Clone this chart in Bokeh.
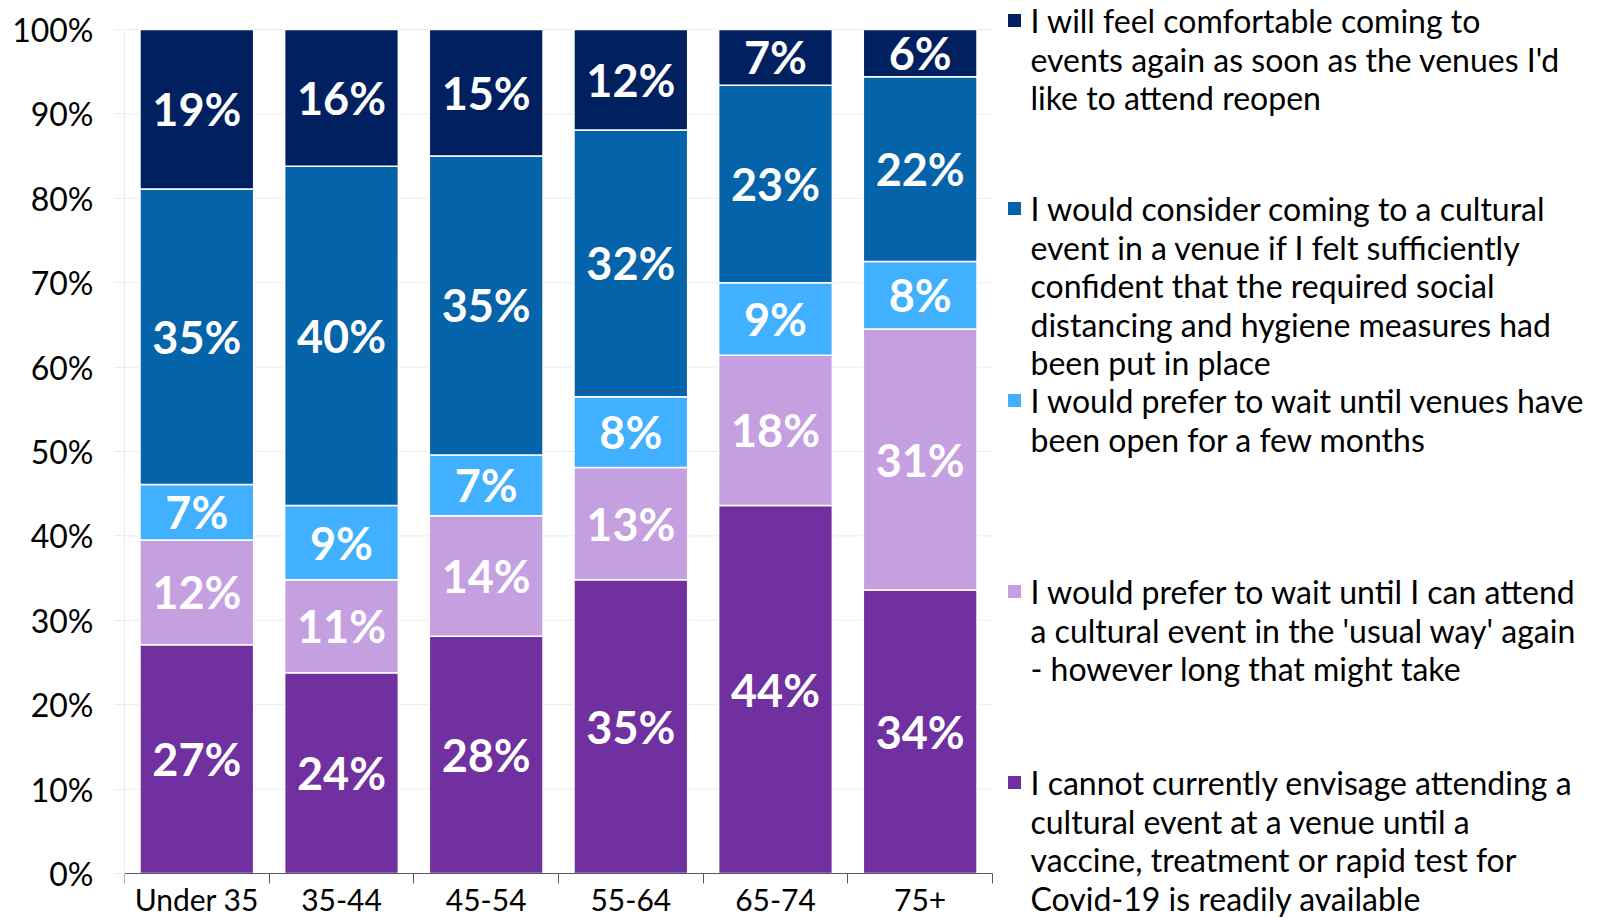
from bokeh.plotting import figure
from bokeh.models import Range1d, FixedTicker, PrintfTickFormatter, ColumnDataSource
from bokeh.embed import file_html
from bokeh.resources import INLINE
from bokeh.core.properties import value

# ---------------- data ----------------
categories = ["Under 35", "35-44", "45-54", "55-64", "65-74", "75+"]
cannot_envisage = [27.1, 23.8, 28.1, 34.8, 43.6, 33.6]
wait_usual_way = [12.4, 11.0, 14.3, 13.3, 17.8, 30.9]
wait_few_months = [6.6, 8.8, 7.2, 8.4, 8.6, 8.0]
consider_if_confident = [35.0, 40.2, 35.4, 31.6, 23.4, 21.9]
comfortable_on_reopen = [18.9, 16.2, 15.0, 11.9, 6.6, 5.6]
y_ticks = [0, 10, 20, 30, 40, 50, 60, 70, 80, 90, 100]

series_keys = ["cannot", "usual", "months", "consider", "comfortable"]
series_values = [cannot_envisage, wait_usual_way, wait_few_months,
                 consider_if_confident, comfortable_on_reopen]
series_labels = [
    ["I cannot currently envisage attending a", "cultural event at a venue until a",
     "vaccine, treatment or rapid test for", "Covid-19 is readily available"],
    ["I would prefer to wait until I can attend", "a cultural event in the 'usual way' again",
     "- however long that might take"],
    ["I would prefer to wait until venues have", "been open for a few months"],
    ["I would consider coming to a cultural", "event in a venue if I felt sufficiently",
     "confident that the required social", "distancing and hygiene measures had",
     "been put in place"],
    ["I will feel comfortable coming to", "events again as soon as the venues I'd",
     "like to attend reopen"],
]
colors = ["#7030A0", "#C5A0E1", "#41B0FF", "#0563AA", "#00205F"]

FONT = "Lato"

# ---------------- layout (pixels) ----------------
W, H = 1604, 918
LEFT = 124          # left border (y tick labels)
AXIS_Y = 873        # page y of the 0 % line
PLOT_W = 868        # width of the bar area
PLOT_H = 844        # height of 0..100 %
frame_w = W - LEFT
n = len(categories)
px_x = PLOT_W / n
px_y = PLOT_H / 100.0

xs = [i + 0.5 for i in range(n)]
data = {"x": xs}
for k, v in zip(series_keys, series_values):
    data[k] = v
src = ColumnDataSource(data)

p = figure(width=W, height=H,
           x_range=Range1d(0, frame_w / px_x),
           y_range=Range1d(-(H - AXIS_Y) / px_y, AXIS_Y / px_y),
           output_backend="svg", toolbar_location=None,
           min_border_left=LEFT, min_border_right=0, min_border_top=0,
           min_border_bottom=0)
p.outline_line_color = None
p.background_fill_color = "white"
p.border_fill_color = "white"

# light gridlines limited to the bar area
p.segment(x0=[0] * len(y_ticks), x1=[n] * len(y_ticks), y0=y_ticks, y1=y_ticks,
          line_color="#EBEBEB", line_width=1)

p.vbar_stack(series_keys, x="x", width=0.786, color=colors, line_color="white",
             line_width=1.5, source=src)

# segment labels
lx, ly, lt = [], [], []
bottoms = [0.0] * n
for vals in series_values:
    for i, v in enumerate(vals):
        lx.append(xs[i])
        ly.append(bottoms[i] + v / 2)
        lt.append(f"{round(v)}%")
        bottoms[i] += v
p.text(x=lx, y=ly, text=lt, text_color="white", text_font=value(FONT),
       text_font_style="bold", text_font_size="45px", text_align="center",
       text_baseline="middle")

# axes
p.xaxis.fixed_location = 0
p.xaxis.bounds = (0, n)
p.xaxis.ticker = FixedTicker(ticks=xs, minor_ticks=list(range(n + 1)))
p.xaxis.major_label_overrides = {x: c for x, c in zip(xs, categories)}
p.xaxis.major_tick_out = 0
p.xaxis.major_tick_in = 0
p.xaxis.minor_tick_out = 10
p.xaxis.minor_tick_in = 0
p.xaxis.minor_tick_line_color = "#595959"
p.xaxis.axis_line_color = "#595959"
p.xaxis.major_label_standoff = -3
p.xaxis.major_label_text_font = FONT
p.xaxis.major_label_text_font_size = "30px"
p.xaxis.major_label_text_line_height = 1.0
p.xaxis.major_label_text_color = "#000000"

p.yaxis.bounds = (0, 100)
p.yaxis.ticker = FixedTicker(ticks=y_ticks)
p.yaxis.formatter = PrintfTickFormatter(format="%d%%")
p.yaxis.axis_line_color = "#EBEBEB"
p.yaxis.major_tick_line_color = "#EBEBEB"
p.yaxis.major_tick_out = 10
p.yaxis.major_tick_in = 0
p.yaxis.minor_tick_line_color = None
p.yaxis.major_label_standoff = 21
p.yaxis.major_label_text_font = FONT
p.yaxis.major_label_text_font_size = "32px"
p.yaxis.major_label_text_color = "#000000"

p.xgrid.grid_line_color = None
p.ygrid.grid_line_color = None

# ---------------- legend (to the right of the bars) ----------------
SQ_DX = 22       # square centre, px right of bar area
TXT_DX = 38      # text start, px right of bar area
LINE_H = 38.5    # line spacing, px
entry_top_px = [20, 208, 400, 591, 782]   # first-line centres, px from top, top entry first
order = list(reversed(range(len(series_keys))))

def to_y(page_y):
    return (AXIS_Y - page_y) / px_y

p.rect(x=[n + SQ_DX / px_x] * len(order), y=[to_y(t) for t in entry_top_px],
       width=13, height=13, width_units="screen", height_units="screen",
       color=[colors[i] for i in order], line_color=None)

tx, ty, tt = [], [], []
for top, idx in zip(entry_top_px, order):
    for j, line in enumerate(series_labels[idx]):
        tx.append(n + TXT_DX / px_x)
        ty.append(to_y(top + j * LINE_H))
        tt.append(line)
p.text(x=tx, y=ty, text=tt, text_font=value(FONT), text_font_size="32px",
       text_color="#000000", text_align="left", text_baseline="middle")

open("out.html", "w").write(file_html(p, INLINE))
